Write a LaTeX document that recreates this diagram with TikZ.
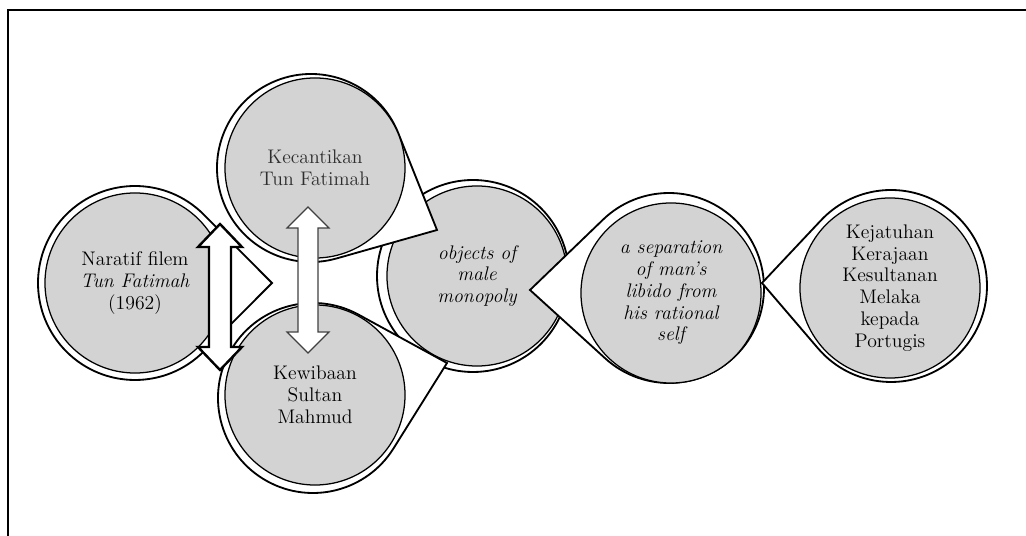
\documentclass[tikz,border=0pt]{standalone}
\usepackage{tikz}
\definecolor{topicgray}{RGB}{211,211,211}

\begin{document}
\begin{tikzpicture}[
    x=0.025cm, y=0.025cm,
    ring/.style={draw=black,line width=1.3pt,fill=white},
    topic/.style={circle,draw=black,line width=0.9pt,fill=topicgray,
        minimum size=4.5cm,inner sep=0pt,align=center,
        font={\fontsize{14}{15.5}\selectfont}},
    slanted/.style={topic,font={\fontsize{14}{15.5}\selectfont\itshape}},
    bigarrow/.style={draw=black,line width=1.7pt,fill=white,line join=miter},
    softarrow/.style={draw=black!75,line width=0.8pt,fill=white},
    ]
    \useasboundingbox (0,0) rectangle (1026,-536);

    % frame
    \draw[line width=1.5pt] (8,-536) -- (8,-10) -- (1026,-10);

    % film narrative
    \draw[ring] (135,-283) ++(45:97) arc[start angle=45,end angle=315,radius=97] -- (272,-283) -- cycle;
    \node[topic] (narrative) at (135,-283) {Naratif filem\\\textit{Tun Fatimah}\\(1962)};

    % objects of male monopoly
    \draw[ring] (473,-276) circle (96);
    \node[slanted] (objects) at (477,-276) {objects of\\male\\monopoly};

    % beauty
    \draw[ring] (311,-168) ++(21.8:94) arc[start angle=21.8,end angle=285.8,radius=94] -- (437,-230) -- cycle;
    \node[topic,text=black!82] (beauty) at (315,-168) {Kecantikan\\Tun Fatimah};

    % authority
    \draw[ring] (313,-398) ++(61.3:95) arc[start angle=61.3,end angle=327.9,radius=95] -- (447,-363) -- cycle;
    \node[topic] (authority) at (315,-395) {Kewibaan\\Sultan\\Mahmud};

    % separation
    \draw[ring] (669,-288) ++(227.7:95) arc[start angle=227.7,end angle=493.9,radius=95] -- (530,-290) -- cycle;
    \node[slanted] (separation) at (671,-293) {a separation\\of man's\\libido from\\his rational\\self};

    % downfall
    \draw[ring] (891,-286) ++(220.6:96) arc[start angle=220.6,end angle=496.8,radius=96] -- (762,-283) -- cycle;
    \node[topic] (downfall) at (890,-288) {Kejatuhan\\Kerajaan\\Kesultanan\\Melaka\\kepada\\Portugis};

    % up-down arrows
    \draw[bigarrow] (220,-224) -- (242,-247) -- (231,-247) -- (231,-347) -- (242,-347)
        -- (220,-370) -- (198,-347) -- (209,-347) -- (209,-247) -- (198,-247) -- cycle;
    \draw[softarrow] (308,-207) -- (329,-228) -- (318,-228) -- (318,-332) -- (329,-332)
        -- (308,-353) -- (287,-332) -- (298,-332) -- (298,-228) -- (287,-228) -- cycle;
\end{tikzpicture}
\end{document}
